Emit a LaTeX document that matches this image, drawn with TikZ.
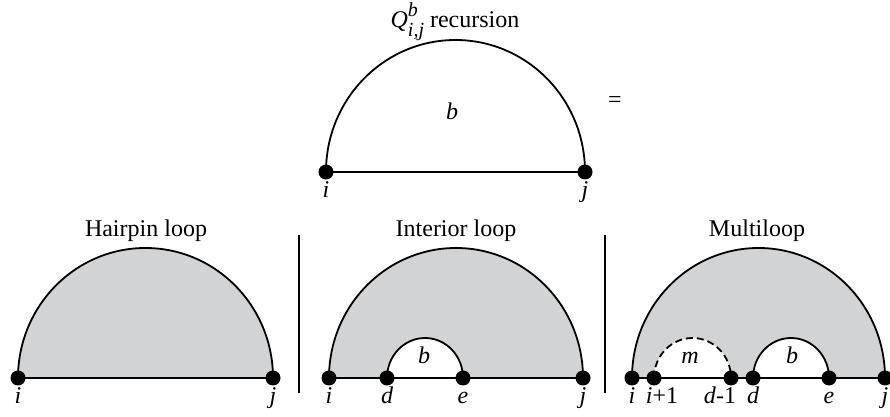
\documentclass[tikz,border=0pt,12pt]{standalone}
\usepackage{fontspec}
\setmainfont{Liberation Serif}
\usetikzlibrary{positioning}
\definecolor{loopgray}{RGB}{209,211,212}
\tikzset{
    dot/.style={circle, fill=black, inner sep=0pt, minimum size=7.5pt},
    lbl/.style={font=\itshape, inner sep=0pt, text height=1.6ex, text depth=0.3ex},
    heading/.style={anchor=base, inner sep=0pt},
    hull/.style={draw=black, line width=0.9pt, fill=loopgray},
    hole/.style={draw=black, line width=0.9pt, fill=white},
    strand/.style={draw=black, line width=0.9pt},
    divider/.style={draw=black, line width=0.9pt}
}

\begin{document}
\begin{tikzpicture}[x=0.5pt, y=0.5pt]
    \useasboundingbox (0,0) rectangle (890,417);

    % recursion on top
    \coordinate (ti) at (326,245);
    \coordinate (tj) at (585,245);
    \node[heading] (ttitle) at (455,389) {\textit{Q}\makebox[0pt][l]{\raisebox{1.0ex}{\footnotesize\textit{b}}}\raisebox{-0.75ex}{\footnotesize\textit{i,j}} recursion};
    \draw[strand] (ti) arc[start angle=180, end angle=0, x radius=129.5, y radius=132] -- cycle;
    \node[dot] (dti) at (ti) {};
    \node[dot] (dtj) at (tj) {};
    \node[lbl, below=0pt of dti] (lti) {i};
    \node[lbl, below=0pt of dtj] (ltj) {j};
    \node[lbl] (tb) at (452,305) {b};
    \node (eq) at (615,315) {=};

    % dividers
    \coordinate (s1t) at (299,182);
    \coordinate (s1b) at (299,24);
    \coordinate (s2t) at (605,182);
    \coordinate (s2b) at (605,24);
    \draw[divider] (s1t) -- (s1b);
    \draw[divider] (s2t) -- (s2b);

    % hairpin loop
    \coordinate (hi) at (18,39);
    \coordinate (hj) at (273,39);
    \node[heading] (htitle) at (146,180) {Hairpin loop};
    \draw[hull] (hi) arc[start angle=180, end angle=0, x radius=127.5, y radius=130];
    \draw[strand] (hi) -- (hj);
    \node[dot] (dhi) at (hi) {};
    \node[dot] (dhj) at (hj) {};
    \node[lbl, below=0pt of dhi] (lhi) {i};
    \node[lbl, below=0pt of dhj] (lhj) {j};

    % interior loop
    \coordinate (ii) at (329,39);
    \coordinate (id) at (387,39);
    \coordinate (ie) at (463,39);
    \coordinate (ij) at (583,39);
    \node[heading] (ititle) at (456,180) {Interior loop};
    \draw[hull] (ii) arc[start angle=180, end angle=0, x radius=127, y radius=130];
    \draw[hole] (id) arc[start angle=180, end angle=0, x radius=38, y radius=40];
    \draw[strand] (ii) -- (ij);
    \foreach \p in {ii,id,ie,ij}
        \node[dot] (d\p) at (\p) {};
    \node[lbl, below=0pt of dii] (lii) {i};
    \node[lbl, below=0pt of did] (lid) {d};
    \node[lbl, below=0pt of die] (lie) {e};
    \node[lbl, below=0pt of dij] (lij) {j};
    \node[lbl] (ib) at (424,61) {b};

    % multiloop
    \coordinate (mi) at (632,39);
    \coordinate (mii) at (654,39);
    \coordinate (mdd) at (731,39);
    \coordinate (md) at (753,39);
    \coordinate (me) at (829,39);
    \coordinate (mj) at (885,39);
    \node[heading] (mtitle) at (757,180) {Multiloop};
    \draw[hull] (mi) arc[start angle=180, end angle=0, x radius=126.5, y radius=130];
    \draw[hole, dash pattern=on 3.5pt off 2pt] (mii) arc[start angle=180, end angle=0, x radius=38.5, y radius=40];
    \draw[hole] (md) arc[start angle=180, end angle=0, x radius=38, y radius=40];
    \draw[strand] (mi) -- (mj);
    \foreach \p in {mi,mii,mdd,md,me,mj}
        \node[dot] (d\p) at (\p) {};
    \node[lbl, below=0pt of dmi] (lmi) {i};
    \node[lbl, below=0pt of dmii, xshift=4pt] (lmii) {i\textup{+1}};
    \node[lbl, below=0pt of dmdd, xshift=-5.5pt] (lmdd) {d\textup{-1}};
    \node[lbl, below=0pt of dmd] (lmd) {d};
    \node[lbl, below=0pt of dme] (lme) {e};
    \node[lbl, below=0pt of dmj] (lmj) {j};
    \node[lbl] (mm) at (690,61) {m};
    \node[lbl] (mb) at (792,61) {b};
\end{tikzpicture}
\end{document}
